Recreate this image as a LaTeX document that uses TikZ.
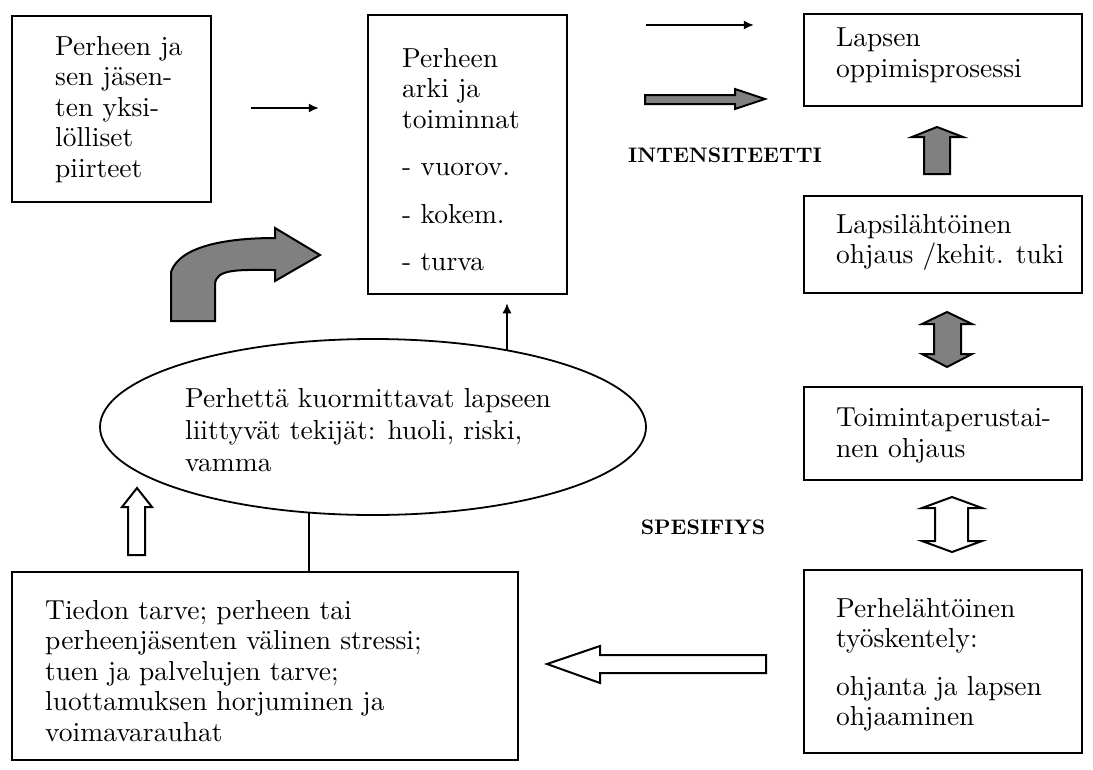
\documentclass[tikz,border=0pt]{standalone}
\usepackage{fontspec}
\setmainfont{lmroman10-regular.otf}[BoldFont=lmroman10-bold.otf]
\usetikzlibrary{arrows.meta,shapes.geometric}
\definecolor{ag}{RGB}{128,128,128}
\begin{document}
\begin{tikzpicture}[x=1pt,y=-1pt,
  box/.style={draw, line width=2.5pt, inner sep=0pt},
  txt/.style={anchor=north west, inner sep=0pt, align=left, font=\fontsize{27.5}{30.5}\selectfont},
  lbl/.style={inner sep=0pt, font=\fontsize{21}{25}\selectfont\bfseries},
  garrow/.style={draw, line width=2pt, fill=ag, line join=miter},
  warrow/.style={draw, line width=2pt, fill=white, line join=miter},
  thinarr/.style={line width=1.4pt, -{Latex[length=10pt,width=9pt]}},
  plain/.style={line width=1.4pt}]
\useasboundingbox (0,0) rectangle (1093,769);
% boxes
\node[box, minimum width=199pt, minimum height=186pt] (b1) at (111.5,109) {};
\node[box, minimum width=199pt, minimum height=279pt] (b2) at (467.5,154.5) {};
\node[box, minimum width=278pt, minimum height=92pt] (b3) at (943,60) {};
\node[box, minimum width=278pt, minimum height=97pt] (b4) at (943,244.5) {};
\node[box, minimum width=278pt, minimum height=93pt] (b5) at (943,433.5) {};
\node[box, minimum width=278pt, minimum height=183pt] (b6) at (943,661.5) {};
\node[box, minimum width=506pt, minimum height=188pt] (b7) at (265,666) {};
\node[draw, ellipse, line width=1.8pt, minimum width=546pt, minimum height=176pt] (el) at (373,427) {};
% texts
\node[txt] (t1) at (55,36) {Perheen ja\\sen jäsen-\\ten yksi-\\lölliset\\piirteet};
\node[txt] (t2) at (402,48) {Perheen\\arki ja\\toiminnat\\[17pt]- vuorov.\\[17pt]- kokem.\\[17pt]- turva};
\node[txt] (t3) at (836,28) {Lapsen\\oppimisprosessi};
\node[txt] (t4) at (836,214) {Lapsilähtöinen\\ohjaus /kehit. tuki};
\node[txt] (t5) at (836,408) {Toimintaperustai-\\nen ohjaus};
\node[txt] (t6) at (836,598) {Perhelähtöinen\\työskentely:\\[17pt]ohjanta ja lapsen\\ohjaaminen};
\node[txt] (t7) at (45,600) {Tiedon tarve; perheen tai\\perheenjäsenten välinen stressi;\\tuen ja palvelujen tarve;\\luottamuksen horjuminen ja\\voimavarauhat};
\node[txt, font=\fontsize{27.5}{32}\selectfont] (te) at (185,388) {Perhettä kuormittavat lapseen\\liittyvät tekijät: huoli, riski,\\vamma};
\node[lbl] (l1) at (725,155) {INTENSITEETTI};
\node[lbl] (l2) at (703,527) {SPESIFIYS};
% thin connectors
\draw[thinarr, shorten <=39pt, shorten >=48pt] (b1.east |- 0,108) -- (b2.west |- 0,108);
\draw[thinarr, shorten <=78pt, shorten >=49pt] (b2.east |- 0,25) -- (b3.west |- 0,25);
\coordinate (e1) at (507,350);
\draw[thinarr, shorten >=8pt] (e1) -- (b2.south -| e1);
\coordinate (e2) at (309,513);
\draw[plain] (e2) -- (b7.north -| e2);
% block arrows
\draw[garrow] (645,95) -- (735,95) -- (735,89) -- (765,99) -- (735,109) -- (735,104) -- (645,104) -- cycle;
\draw[garrow] (924,174) -- (924,137) -- (912,137) -- (937,127) -- (963,137) -- (950,137) -- (950,174) -- cycle;
\draw[garrow] (947,312) -- (972,324) -- (961,324) -- (961,354) -- (972,354) -- (947,367) -- (922,354) -- (934,354) -- (934,324) -- (922,324) -- cycle;
\draw[warrow] (952,497) -- (982,508) -- (968,508) -- (968,541) -- (982,541) -- (952,552) -- (922,541) -- (935,541) -- (935,508) -- (922,508) -- cycle;
\draw[warrow] (547,664) -- (600,646) -- (600,655) -- (766,655) -- (766,673) -- (600,673) -- (600,683) -- cycle;
\draw[warrow] (137,488) -- (152,507) -- (145,507) -- (145,555) -- (128,555) -- (128,507) -- (122,507) -- cycle;
\draw[garrow] (171,321) -- (171,272) .. controls (180,245) and (230,238) .. (275,238) -- (275,228) -- (320,255) -- (275,281) -- (275,270) .. controls (240,270) and (215,268) .. (215,285) -- (215,321) -- cycle;
\end{tikzpicture}
\end{document}
